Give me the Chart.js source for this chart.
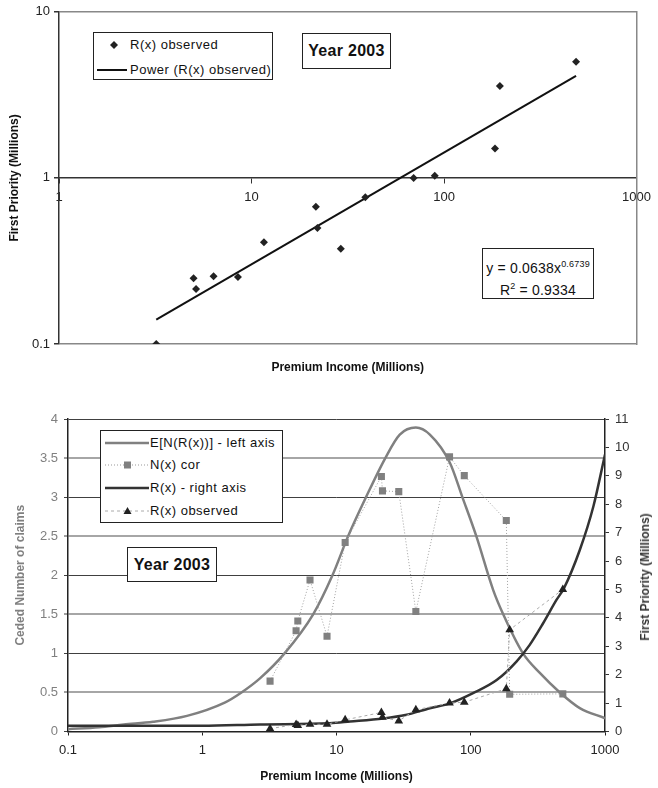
<!DOCTYPE html>
<html>
<head>
<meta charset="utf-8">
<script src="https://cdn.jsdelivr.net/npm/chart.js@4/dist/chart.umd.min.js"></script>
<style>
html,body{margin:0;padding:0;background:#fff;}
body{width:658px;height:788px;position:relative;overflow:hidden;font-family:"Liberation Sans",Arial,sans-serif;color:#111;}
canvas{position:absolute;left:0;}
#c1{top:0;}
#c2{top:390px;}
.box{position:absolute;border:1px solid #222;background:#fff;box-sizing:border-box;}
.item{position:absolute;left:0;height:20px;white-space:nowrap;}
.item svg{position:absolute;left:0;top:0;}
.item span{position:absolute;top:2px;font-size:13px;letter-spacing:0.5px;color:#111;}
.year{font-weight:bold;font-size:16px;text-align:center;letter-spacing:0.3px;}
.eq{font-size:14px;text-align:center;letter-spacing:0.2px;line-height:18px;}
.eq sup{font-size:9px;}
#rtitle{position:absolute;font-weight:bold;font-size:12px;color:#333;white-space:nowrap;transform:translate(-50%,-50%) rotate(-90deg);}
</style>
</head>
<body>
<canvas id="c1" width="658" height="390"></canvas>
<canvas id="c2" width="658" height="398"></canvas>

<div class="box" style="left:93px;top:32px;width:180px;height:48px;">
  <div class="item" style="top:2px;width:178px;">
    <svg width="34" height="20"><polygon points="20,6 24,10 20,14 16,10" fill="#222"/></svg>
    <span style="left:36px;">R(x) observed</span>
  </div>
  <div class="item" style="top:27px;width:178px;">
    <svg width="34" height="20"><line x1="3" y1="10" x2="33" y2="10" stroke="#111" stroke-width="2"/></svg>
    <span style="left:36px;">Power (R(x) observed)</span>
  </div>
</div>
<div class="box year" style="left:302px;top:33px;width:89px;height:36px;line-height:34px;">Year 2003</div>
<div class="box eq" style="left:482px;top:248px;width:112px;height:51px;padding-top:6px;">y = 0.0638x<sup>0.6739</sup><br>R<sup>2</sup> = 0.9334</div>

<div class="box" style="left:100px;top:430px;width:183px;height:93px;">
  <div class="item" style="top:2px;width:180px;">
    <svg width="50" height="20"><line x1="4" y1="10" x2="48" y2="10" stroke="#808080" stroke-width="2.5"/></svg>
    <span style="left:49px;">E[N(R(x))] - left axis</span>
  </div>
  <div class="item" style="top:24px;width:180px;">
    <svg width="50" height="20"><line x1="4" y1="10" x2="48" y2="10" stroke="#999" stroke-width="1" stroke-dasharray="1,2"/><rect x="23" y="6.5" width="7" height="7" fill="#808080"/></svg>
    <span style="left:49px;">N(x) cor</span>
  </div>
  <div class="item" style="top:47px;width:180px;">
    <svg width="50" height="20"><line x1="4" y1="10" x2="48" y2="10" stroke="#333" stroke-width="2.5"/></svg>
    <span style="left:49px;">R(x) - right axis</span>
  </div>
  <div class="item" style="top:70px;width:180px;">
    <svg width="50" height="20"><line x1="4" y1="10" x2="48" y2="10" stroke="#aaa" stroke-width="1" stroke-dasharray="3,3"/><polygon points="26.5,6 30.5,13 22.5,13" fill="#222"/></svg>
    <span style="left:49px;">R(x) observed</span>
  </div>
</div>
<div class="box year" style="left:127px;top:547px;width:90px;height:35px;line-height:33px;">Year 2003</div>
<div id="rtitle" style="left:645px;top:577px;">First Priority (Millions)</div>

<script>
// ---------- data ----------
const premium = [3.2, 5.0, 5.15, 6.35, 8.5, 11.6, 21.6, 22.0, 29.1, 39.0, 69.5, 89.5, 184, 195, 485];
const priorityObserved = [0.10, 0.249, 0.214, 0.256, 0.253, 0.41, 0.67, 0.50, 0.374, 0.766, 1.0, 1.03, 1.505, 3.58, 5.0];
const nCor = [0.645, 1.29, 1.415, 1.94, 1.22, 2.42, 3.265, 3.08, 3.07, 1.535, 3.515, 3.275, 2.70, 0.476, 0.482];
const trendX = [3.2, 485];
const trendY = [0.14, 4.12];
const enX = [0.1, 0.17, 0.26, 0.43, 0.77, 1.47, 1.96, 2.69, 4.1, 6.7, 9.33, 12.2, 16.6, 23.1, 29.6, 39, 49.6, 69.9, 86.6, 110, 147, 174.5, 245, 327, 461, 649, 1000];
const enY = [0.03, 0.055, 0.09, 0.125, 0.2, 0.37, 0.5, 0.68, 1.0, 1.5, 2.0, 2.5, 3.0, 3.5, 3.80, 3.89, 3.80, 3.44, 3.0, 2.5, 1.81, 1.5, 1.0, 0.75, 0.5, 0.3, 0.17];
const rX = [0.1, 1, 2.7, 8.9, 12.6, 22.3, 32.6, 49.6, 70, 104, 156, 219, 275, 346, 435, 494, 649, 819, 1000];
const rY = [0.2, 0.2, 0.25, 0.29, 0.35, 0.46, 0.58, 0.82, 0.99, 1.35, 1.81, 2.46, 3.05, 3.81, 4.63, 5.04, 6.39, 7.92, 9.75];
const topXTicks = [1, 10, 100, 1000];
const topXLabels = ['1', '10', '100', '1000'];
const topYTicks = [0.1, 1, 10];
const topYLabels = ['0.1', '1', '10'];
const botXTicks = [0.1, 1, 10, 100, 1000];
const botXLabels = ['0.1', '1', '10', '100', '1000'];
const leftTicks = [0, 0.5, 1, 1.5, 2, 2.5, 3, 3.5, 4];
const leftLabels = ['0', '0.5', '1', '1.5', '2', '2.5', '3', '3.5', '4'];
const rightTicks = [0, 1, 2, 3, 4, 5, 6, 7, 8, 9, 10, 11];
const rightLabels = ['0', '1', '2', '3', '4', '5', '6', '7', '8', '9', '10', '11'];

const FONT = '"Liberation Sans", Arial, sans-serif';
const pts = (xs, ys) => xs.map((x, i) => ({x: x, y: ys[i]}));
const setTicks = arr => s => { s.ticks = arr.map(v => ({value: v})); };

Chart.defaults.font.family = FONT;
Chart.defaults.animation = false;

// ---------- top chart ----------
new Chart(document.getElementById('c1'), {
  type: 'scatter',
  data: {
    datasets: [
      {
        label: 'R(x) observed',
        data: pts(premium, priorityObserved),
        pointStyle: 'rectRot', pointRadius: 4, pointBackgroundColor: '#222', pointBorderWidth: 0,
        showLine: false, order: 0
      },
      {
        type: 'line',
        label: 'Power (R(x) observed)',
        data: pts(trendX, trendY),
        borderColor: '#111', borderWidth: 2, pointRadius: 0, fill: false, order: 1
      }
    ]
  },
  options: {
    responsive: false,
    animation: false,
    layout: {padding: {left: 0, top: 11, right: 15, bottom: 15}},
    plugins: {
      legend: {display: false},
      tooltip: {enabled: false},
      title: {
        display: true, position: 'bottom', fullSize: false,
        text: 'Premium Income (Millions)', color: '#111',
        font: {family: FONT, size: 12, weight: 'bold'}, padding: {top: 16.6, bottom: 0}
      }
    },
    scales: {
      x: {
        type: 'logarithmic', min: 1, max: 1000, position: {y: 1},
        afterBuildTicks: setTicks(topXTicks),
        ticks: {callback: (v, i) => topXLabels[i], autoSkip: false, maxRotation: 0, color: '#222', font: {size: 13}, padding: 7},
        grid: {drawOnChartArea: false, tickLength: 5, color: '#333'},
        border: {color: '#333', width: 1.5}
      },
      y: {
        type: 'logarithmic', min: 0.1, max: 10, position: 'left',
        afterBuildTicks: setTicks(topYTicks),
        afterFit: s => { s.width = 59; },
        ticks: {callback: (v, i) => topYLabels[i], autoSkip: false, color: '#222', font: {size: 13}, padding: 4},
        grid: {color: c => (c.tick && c.tick.value === 1) ? 'rgba(0,0,0,0)' : '#888', lineWidth: 1.5, tickLength: 5, tickColor: '#333'},
        border: {color: '#333', width: 1.5},
        title: {display: true, text: 'First Priority (Millions)', color: '#111', font: {size: 12, weight: 'bold'}, padding: {top: 7, bottom: 0}}
      },
      yR: {
        type: 'logarithmic', min: 0.1, max: 10, position: 'right',
        afterFit: s => { s.width = 0; },
        ticks: {display: false},
        grid: {display: false},
        border: {color: '#888', width: 1.5}
      }
    }
  }
});

// ---------- bottom chart ----------
new Chart(document.getElementById('c2'), {
  type: 'scatter',
  data: {
    datasets: [
      {
        type: 'line', label: 'E[N(R(x))] - left axis', yAxisID: 'y',
        data: pts(enX, enY), borderColor: '#808080', borderWidth: 2.5, pointRadius: 0,
        cubicInterpolationMode: 'monotone', fill: false, order: 3
      },
      {
        type: 'line', label: 'N(x) cor', yAxisID: 'y',
        data: pts(premium, nCor), borderColor: '#a0a0a0', borderWidth: 1, borderDash: [1, 2],
        pointStyle: 'rect', pointRadius: 5, pointBackgroundColor: '#808080', pointBorderWidth: 0,
        tension: 0, fill: false, order: 1
      },
      {
        type: 'line', label: 'R(x) - right axis', yAxisID: 'y2',
        data: pts(rX, rY), borderColor: '#333', borderWidth: 2.5, pointRadius: 0,
        cubicInterpolationMode: 'monotone', fill: false, order: 2
      },
      {
        type: 'line', label: 'R(x) observed', yAxisID: 'y2',
        data: pts(premium, priorityObserved), borderColor: '#aaa', borderWidth: 1, borderDash: [3, 3],
        pointStyle: 'triangle', pointRadius: 5, pointBackgroundColor: '#222', pointBorderWidth: 0,
        tension: 0, fill: false, order: 0
      }
    ]
  },
  options: {
    responsive: false,
    animation: false,
    layout: {padding: {left: 0, top: 29, right: 0, bottom: 0}},
    plugins: {legend: {display: false}, tooltip: {enabled: false}},
    scales: {
      x: {
        type: 'logarithmic', min: 0.1, max: 1000, position: 'bottom',
        afterBuildTicks: setTicks(botXTicks),
        afterFit: s => { s.height = 56.5; },
        ticks: {callback: (v, i) => botXLabels[i], autoSkip: false, maxRotation: 0, color: '#222', font: {size: 13}, padding: 7},
        grid: {drawOnChartArea: false, tickLength: 4, color: '#222'},
        border: {color: '#222', width: 1.5},
        title: {display: true, text: 'Premium Income (Millions)', color: '#111', font: {size: 12, weight: 'bold'}, padding: {top: 0, bottom: 4}}
      },
      y: {
        type: 'linear', min: 0, max: 4, position: 'left',
        afterBuildTicks: setTicks(leftTicks),
        afterFit: s => { s.width = 68; },
        ticks: {callback: (v, i) => leftLabels[i], autoSkip: false, color: '#808080', font: {size: 13}, padding: 6},
        grid: {
          color: c => (c.tick && c.tick.value % 1 !== 0) ? '#a6a6a6' : '#404040',
          lineWidth: c => (c.tick && c.tick.value % 1 !== 0) ? 2 : 1,
          tickLength: 4, tickColor: '#404040', tickWidth: 1
        },
        border: {color: '#222', width: 1.5},
        title: {display: true, text: 'Ceded Number of claims', color: '#808080', font: {size: 12, weight: 'bold'}, padding: {top: 13, bottom: 0}}
      },
      y2: {
        type: 'linear', min: 0, max: 11, position: 'right',
        afterBuildTicks: setTicks(rightTicks),
        afterFit: s => { s.width = 53; },
        ticks: {callback: (v, i) => rightLabels[i], autoSkip: false, color: '#333', font: {size: 13}, padding: 6},
        grid: {drawOnChartArea: false, tickLength: 4, color: '#333'},
        border: {color: '#222', width: 1.5}
      }
    }
  }
});
</script>
</body>
</html>
